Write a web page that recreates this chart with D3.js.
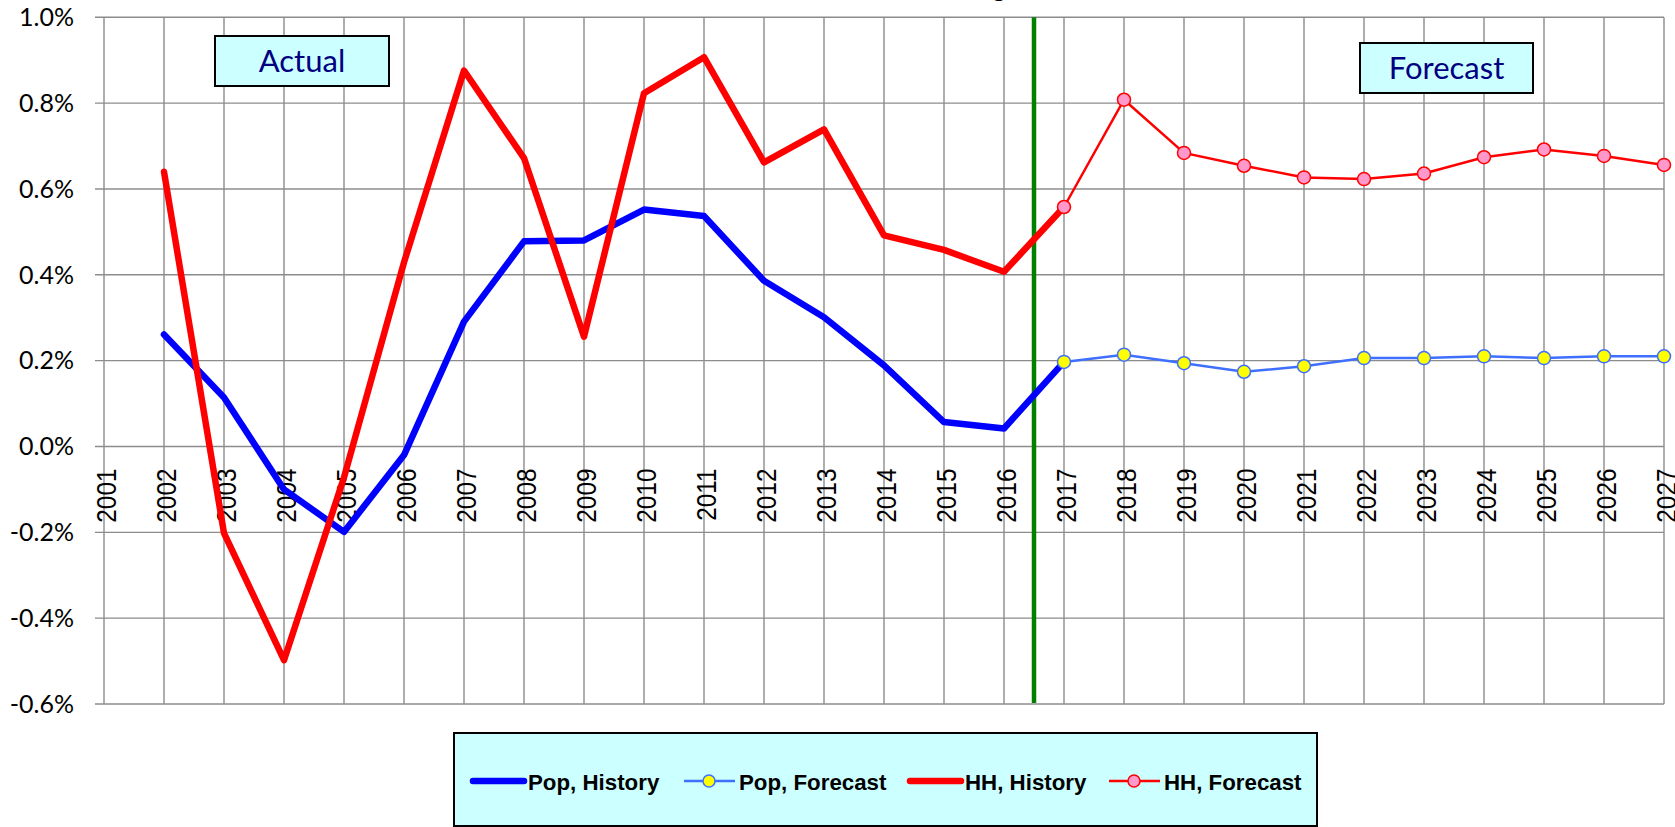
<!DOCTYPE html>
<html>
<head>
<meta charset="utf-8">
<script src="https://cdn.jsdelivr.net/npm/d3@7"></script>
<style>
  body { margin: 0; background: #fff; overflow: hidden; }
  svg { display: block; }
</style>
</head>
<body>
<svg id="chart" width="1675" height="827"></svg>
<script>
// ---- data (percent change) ----
const years = ["2001","2002","2003","2004","2005","2006","2007","2008","2009","2010","2011","2012","2013","2014",
               "2015","2016","2017","2018","2019","2020","2021","2022","2023","2024","2025","2026","2027"];
const yTicks = [-0.6, -0.4, -0.2, 0.0, 0.2, 0.4, 0.6, 0.8, 1.0];

const historyYears = ["2002","2003","2004","2005","2006","2007","2008","2009","2010","2011","2012","2013","2014","2015","2016","2017"];
const forecastYears = ["2017","2018","2019","2020","2021","2022","2023","2024","2025","2026","2027"];

const popHistory  = [0.261, 0.114, -0.100, -0.199, -0.020, 0.291, 0.478, 0.480, 0.552, 0.537, 0.386, 0.301, 0.189, 0.057, 0.042, 0.197];
const popForecast = [0.197, 0.214, 0.194, 0.174, 0.187, 0.206, 0.206, 0.210, 0.206, 0.210, 0.210];
const hhHistory   = [0.640, -0.202, -0.498, -0.072, 0.429, 0.876, 0.672, 0.256, 0.823, 0.907, 0.662, 0.739, 0.492, 0.458, 0.407, 0.558];
const hhForecast  = [0.558, 0.808, 0.684, 0.654, 0.627, 0.623, 0.636, 0.674, 0.692, 0.677, 0.656];

const dividerAt = 2016.5;   // green line between actual and forecast
const titleText = "Annual Rate of Change";

// ---- layout ----
const svg = d3.select("#chart");
const plotLeft = 104, plotRight = 1664, plotTop = 17.3, plotBottom = 704;

const x = d3.scalePoint().domain(years).range([plotLeft, plotRight]).padding(0);
const y = d3.scaleLinear().domain([-0.6, 1.0]).range([plotBottom, plotTop]);

// title (mostly above the visible area, only a descender shows)
svg.append("text")
  .attr("x", 1018).attr("y", -3)
  .attr("text-anchor", "end")
  .attr("font-family", "Lato, sans-serif")
  .attr("font-weight", "bold")
  .attr("font-size", 24)
  .text(titleText);

// gridlines
const grid = svg.append("g").attr("stroke", "#8c8c8c").attr("stroke-width", 1.4);
grid.selectAll("line.h")
  .data(yTicks)
  .join("line")
  .attr("class", "h")
  .attr("x1", plotLeft - 9).attr("x2", plotRight)
  .attr("y1", d => y(d)).attr("y2", d => y(d));
grid.selectAll("line.v")
  .data(years)
  .join("line")
  .attr("class", "v")
  .attr("x1", d => x(d)).attr("x2", d => x(d))
  .attr("y1", plotTop).attr("y2", plotBottom);

// y labels (plain hyphen for minus, like the original)
const pct = d => d.toFixed(1).replace("−", "-") + "%";
svg.append("g")
  .selectAll("text")
  .data(yTicks)
  .join("text")
  .attr("x", 74)
  .attr("y", d => y(d))
  .attr("dy", "0.35em")
  .attr("text-anchor", "end")
  .attr("font-family", "Lato, sans-serif")
  .attr("font-size", 25)
  .attr("fill", "#000")
  .text(pct);

// x labels, rotated, hanging below the zero line
svg.append("g")
  .selectAll("text")
  .data(years)
  .join("text")
  .attr("transform", d => `translate(${x(d) + 1.5},${y(0) + 22}) rotate(-90) scale(0.87,1)`)
  .attr("dy", "0.36em")
  .attr("text-anchor", "end")
  .attr("font-family", "Liberation Sans, Arial, sans-serif")
  .attr("font-size", 28)
  .attr("fill", "#000")
  .text(d => d);

// divider
const step = x.step();
const xDiv = x("2016") + (dividerAt - 2016) * step;
svg.append("line")
  .attr("x1", xDiv).attr("x2", xDiv)
  .attr("y1", plotTop).attr("y2", plotBottom - 1)
  .attr("stroke", "#008000").attr("stroke-width", 4.5);

// series
const line = d3.line().x(d => x(d[0])).y(d => y(d[1]));
const zip = (ys, vs) => ys.map((yr, i) => [yr, vs[i]]);

function historyLine(vals, color) {
  svg.append("path")
    .datum(zip(historyYears, vals))
    .attr("d", line)
    .attr("fill", "none")
    .attr("stroke", color)
    .attr("stroke-width", 6.5)
    .attr("stroke-linejoin", "round")
    .attr("stroke-linecap", "round");
}
function forecastLine(vals, color, fill) {
  const pts = zip(forecastYears, vals);
  svg.append("path")
    .datum(pts)
    .attr("d", line)
    .attr("fill", "none")
    .attr("stroke", color)
    .attr("stroke-width", 2.5);
  svg.append("g")
    .selectAll("circle")
    .data(pts)
    .join("circle")
    .attr("cx", d => x(d[0]))
    .attr("cy", d => y(d[1]))
    .attr("r", 6.5)
    .attr("fill", fill)
    .attr("stroke", color)
    .attr("stroke-width", 1.5);
}

historyLine(popHistory, "#0000ff");
forecastLine(popForecast, "#3f6fff", "#ffff00");
historyLine(hhHistory, "#ff0000");
forecastLine(hhForecast, "#ff0000", "#ff99cc");

// Actual / Forecast boxes
function labelBox(x0, y0, w, h, txt) {
  svg.append("rect")
    .attr("x", x0).attr("y", y0).attr("width", w).attr("height", h)
    .attr("fill", "#ccffff").attr("stroke", "#000").attr("stroke-width", 2);
  svg.append("text")
    .attr("x", x0 + w / 2).attr("y", y0 + h / 2)
    .attr("dy", "0.35em")
    .attr("text-anchor", "middle")
    .attr("font-family", "Lato, sans-serif")
    .attr("font-size", 31)
    .attr("fill", "#000080")
    .text(txt);
}
labelBox(215, 36, 174, 50, "Actual");
labelBox(1360, 43, 173, 50, "Forecast");

// legend
const legend = svg.append("g");
legend.append("rect")
  .attr("x", 454).attr("y", 733).attr("width", 863).attr("height", 93)
  .attr("fill", "#ccffff").attr("stroke", "#000").attr("stroke-width", 2);

const legendItems = [
  {name: "Pop, History",  color: "#0000ff", width: 6.5, marker: null,      x: 473},
  {name: "Pop, Forecast", color: "#3f6fff", width: 2.5, marker: "#ffff00", x: 684},
  {name: "HH, History",   color: "#ff0000", width: 6.5, marker: null,      x: 910},
  {name: "HH, Forecast",  color: "#ff0000", width: 2.5, marker: "#ff99cc", x: 1109}
];
const ly = 781;
legendItems.forEach(it => {
  legend.append("line")
    .attr("x1", it.x).attr("x2", it.x + 51)
    .attr("y1", ly).attr("y2", ly)
    .attr("stroke", it.color).attr("stroke-width", it.width)
    .attr("stroke-linecap", it.marker ? "butt" : "round");
  if (it.marker) {
    legend.append("circle")
      .attr("cx", it.x + 25).attr("cy", ly).attr("r", 6)
      .attr("fill", it.marker).attr("stroke", it.color).attr("stroke-width", 1.5);
  }
  legend.append("text")
    .attr("x", it.x + 55).attr("y", ly + 9)
    .attr("font-family", "Liberation Sans, Arial, sans-serif")
    .attr("font-weight", "bold")
    .attr("font-size", 22.3)
    .attr("fill", "#000")
    .text(it.name);
});
</script>
</body>
</html>
